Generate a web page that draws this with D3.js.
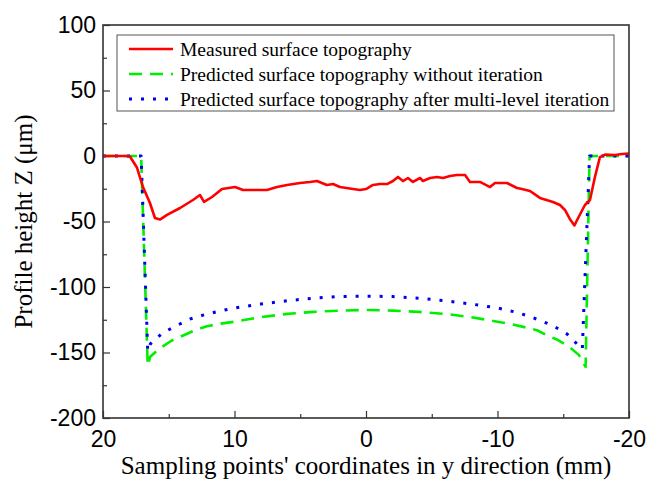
<!DOCTYPE html>
<html>
<head>
<meta charset="utf-8">
<script src="https://cdn.jsdelivr.net/npm/d3@7"></script>
<style>
  html, body { margin: 0; padding: 0; background: #fff; }
  svg { display: block; }
</style>
</head>
<body>
<div id="chart"></div>
<script>
// ---- data ----
const xTicks = [20, 10, 0, -10, -20];
const yTicks = [100, 50, 0, -50, -100, -150, -200];

const seriesNames = [
  'Measured surface topography',
  'Predicted surface topography without iteration',
  'Predicted surface topography after multi-level iteration'
];

// measured profile (red)
const measuredX = [20, 19.1, 18.3, 17.95, 17.41, 16.96, 16.43, 16.05, 15.67, 15.13, 14.14, 13.16, 12.62, 12.32, 11.71, 10.95,
  9.96, 9.35, 8.44, 7.53, 6.77, 6.0, 5.02, 4.26, 3.73, 3.35, 2.97, 2.51, 1.98, 0.99, 0.46, 0,
  -0.53, -1.06, -1.6, -2.05, -2.43, -2.81, -3.19, -3.57, -4.11, -4.33, -4.87, -5.4, -5.86, -6.39, -6.92, -7.53,
  -7.91, -8.67, -9.43, -9.81, -10.72, -11.48, -11.86, -12.47, -13.23, -14.22, -14.75, -15.13, -15.5, -15.85,
  -16.2, -16.65, -17.03, -17.41, -17.79, -18.17, -18.93, -19.47, -20];
const measuredY = [0, 0, 0, -0.4, -9, -23.7, -35.9, -47.3, -48.5, -45, -39.7, -33.6, -29.8, -35, -31.3, -25.2,
  -23.7, -26, -26, -26, -23.7, -22.1, -20.6, -19.8, -19.1, -20.6, -22.1, -21.4, -23.7, -25.2, -26, -25.2,
  -22.1, -21.4, -21.4, -19.1, -16, -19.1, -16.8, -19.8, -16.8, -19.1, -16.8, -16, -16.8, -15.3, -14.5, -14.5,
  -19.8, -19.8, -23.7, -20.6, -20.6, -24.4, -25.2, -26.7, -32, -35.1, -37.4, -41.2, -48, -53,
  -46, -37.4, -33.6, -16, -0.8, 1.1, 0.8, 1.5, 1.9];

// prediction without iteration (green dashed)
const noIterX = [20, 17.1, 16.6, 16.4, 15.7, 14.8, 13.9, 13.0, 12.1, 11.1, 10, 8, 6, 4, 2, 0,
  -2, -4, -6, -8, -10, -11.1, -12.2, -13.0, -13.8, -14.6, -15.5, -16.2, -16.7, -17.0, -20];
const noIterY = [0, 0, -160, -153, -147, -141, -137, -133, -130, -128, -126.5, -123, -120.5, -119, -118, -117.5,
  -118, -119, -120.5, -123, -126.5, -128.5, -131, -133, -137, -140.5, -146, -152, -161, 0, 0];

// prediction after multi-level iteration (blue dotted)
const iterX = [20, 17.1, 16.6, 16.4, 15.45, 14.4, 13.4, 12.4, 11.4, 10, 8, 6, 4, 2, 0,
  -2, -4, -6, -8, -10, -11.3, -12.3, -13.3, -14.3, -15.3, -16.2, -16.45, -17.0, -20];
const iterY = [0, 0, -149, -143.5, -135, -129.5, -124.5, -121.5, -119, -116, -113, -110.5, -108.5, -107.3, -107,
  -107.3, -108.5, -110.5, -113, -116, -119, -122, -125.7, -130, -136, -145, -147.5, 0, 0];

// ---- layout ----
const W = 662, H = 482;
const plot = { left: 103, right: 629, top: 25, bottom: 418 };

const svg = d3.select('#chart').append('svg')
  .attr('width', W)
  .attr('height', H);

const x = d3.scaleLinear().domain([20, -20]).range([plot.left, plot.right]);
const y = d3.scaleLinear().domain([-200, 100]).range([plot.bottom, plot.top]);

const sans = 'Arial, "Liberation Sans", sans-serif';
const serif = '"Times New Roman", "Liberation Serif", serif';
const axisColor = '#333';
const plain = d => String(d); // keeps the ascii hyphen like the original

// minor ticks
svg.append('g')
  .attr('transform', `translate(0,${plot.bottom})`)
  .call(d3.axisBottom(x).tickValues([15, 5, -5, -15]).tickSize(-4).tickFormat(''))
  .call(g => g.select('.domain').remove())
  .selectAll('line').attr('stroke', axisColor).attr('stroke-width', 1.2);

svg.append('g')
  .attr('transform', `translate(${plot.left},0)`)
  .call(d3.axisLeft(y).tickValues([75, 25, -25, -75, -125, -175]).tickSize(-4).tickFormat(''))
  .call(g => g.select('.domain').remove())
  .selectAll('line').attr('stroke', axisColor).attr('stroke-width', 1.2);

// major ticks + labels
const xAxis = svg.append('g')
  .attr('transform', `translate(0,${plot.bottom})`)
  .call(d3.axisBottom(x).tickValues(xTicks).tickSizeInner(-7).tickSizeOuter(0).tickPadding(13).tickFormat(plain));
xAxis.select('.domain').remove();
xAxis.selectAll('line').attr('stroke', axisColor).attr('stroke-width', 1.2);
xAxis.selectAll('text')
  .attr('font-family', sans)
  .attr('font-size', 23)
  .attr('fill', '#000');

const yAxis = svg.append('g')
  .attr('transform', `translate(${plot.left},0)`)
  .call(d3.axisLeft(y).tickValues(yTicks).tickSizeInner(-7).tickSizeOuter(0).tickPadding(7).tickFormat(plain));
yAxis.select('.domain').remove();
yAxis.selectAll('line').attr('stroke', axisColor).attr('stroke-width', 1.2);
yAxis.selectAll('text')
  .attr('font-family', sans)
  .attr('font-size', 23)
  .attr('fill', '#000');

// clip for series
svg.append('clipPath').attr('id', 'clip')
  .append('rect')
  .attr('x', plot.left).attr('y', plot.top)
  .attr('width', plot.right - plot.left).attr('height', plot.bottom - plot.top);

const line = d3.line()
  .x(d => x(d[0]))
  .y(d => y(d[1]));

const series = [
  { xs: noIterX, ys: noIterY, color: '#00ee00', dash: '13,8', width: 2.6 },
  { xs: iterX, ys: iterY, color: '#0000ee', dash: '3,9', width: 3 },
  { xs: measuredX, ys: measuredY, color: '#ff0000', dash: null, width: 2.6 }
];

const lines = svg.append('g').attr('clip-path', 'url(#clip)');
series.forEach(s => {
  lines.append('path')
    .datum(s.xs.map((v, i) => [v, s.ys[i]]))
    .attr('fill', 'none')
    .attr('stroke', s.color)
    .attr('stroke-width', s.width)
    .attr('stroke-dasharray', s.dash)
    .attr('stroke-linejoin', 'round')
    .attr('d', line);
});

// frame
svg.append('rect')
  .attr('x', plot.left).attr('y', plot.top)
  .attr('width', plot.right - plot.left).attr('height', plot.bottom - plot.top)
  .attr('fill', 'none')
  .attr('stroke', axisColor)
  .attr('stroke-width', 1.6);

// legend
const legend = svg.append('g');
legend.append('rect')
  .attr('x', 117).attr('y', 35)
  .attr('width', 497).attr('height', 76)
  .attr('fill', '#fff')
  .attr('stroke', '#555')
  .attr('stroke-width', 1);

const legendStyles = [series[2], series[0], series[1]];
seriesNames.forEach((name, i) => {
  const cy = 49 + i * 25;
  const st = legendStyles[i];
  legend.append('line')
    .attr('x1', 129).attr('x2', 173)
    .attr('y1', cy).attr('y2', cy)
    .attr('stroke', st.color)
    .attr('stroke-width', st.width)
    .attr('stroke-dasharray', st.dash);
  legend.append('text')
    .attr('x', 180).attr('y', cy)
    .attr('dy', '0.35em')
    .attr('font-family', serif)
    .attr('font-size', 19.5)
    .attr('fill', '#000')
    .text(name);
});

// axis titles
svg.append('text')
  .attr('x', (plot.left + plot.right) / 2)
  .attr('y', 474)
  .attr('text-anchor', 'middle')
  .attr('font-family', serif)
  .attr('font-size', 25)
  .attr('fill', '#000')
  .text("Sampling points' coordinates in y direction (mm)");

svg.append('text')
  .attr('transform', `translate(32,${(plot.top + plot.bottom) / 2}) rotate(-90)`)
  .attr('text-anchor', 'middle')
  .attr('font-family', serif)
  .attr('font-size', 25)
  .attr('fill', '#000')
  .text('Profile height Z (\u03bcm)');
</script>
</body>
</html>
